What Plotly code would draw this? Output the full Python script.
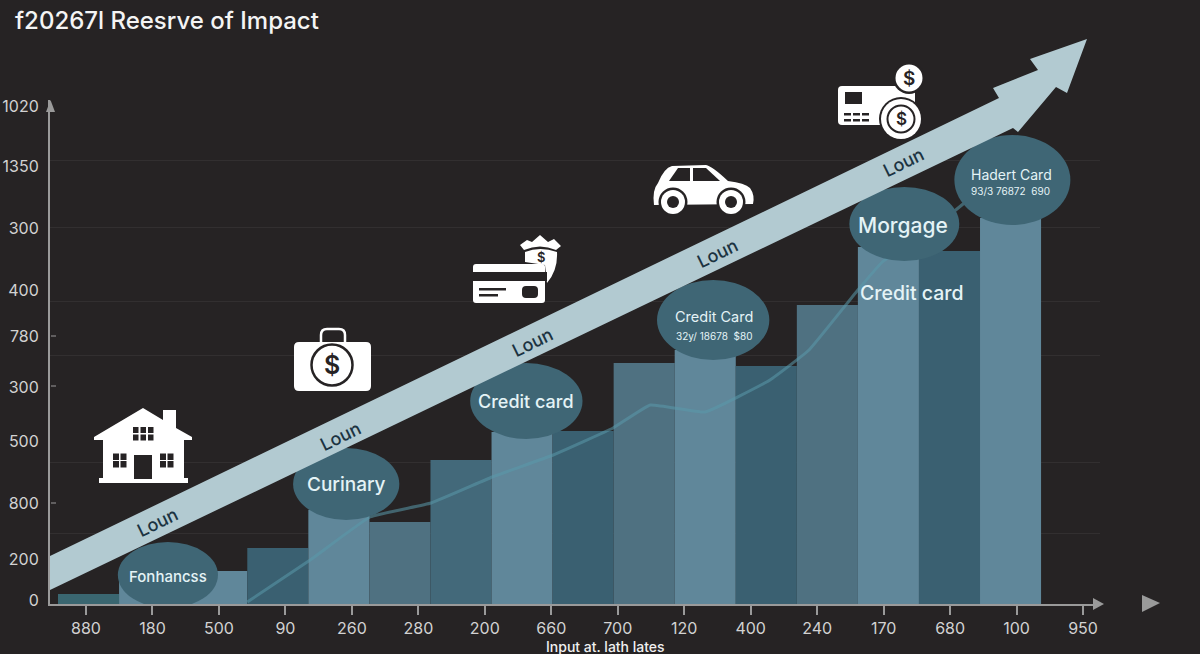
import numpy as np
import plotly.graph_objects as go

BG = "#262324"
AXIS_GREY = "#9a9a9a"
TEXT_GREY = "#d2d2d2"
ICON_WHITE = "#ffffff"
BUBBLE = "#3f6675"
DARK = "#3a6071"
MID = "#4f7181"
LIGHT = "#60879a"
BAND = "#b2cad1"
BAND_TEXT = "#1b3341"
BUBBLE_TEXT = "#e4f3f6"

# Data
bar_widths = [1, 2.1, 1, 1, 1, 1, 1, 1, 1, 1, 1, 1, 1, 1, 1]
bar_heights = [10, 33, 56, 94, 82, 144, 172, 173, 241, 254, 238, 299, 357, 353, 386]
bar_colors = ["#3a6670", LIGHT, DARK, LIGHT, MID, "#43697a", LIGHT, DARK, MID,
              LIGHT, DARK, MID, LIGHT, DARK, LIGHT]

trend_x = [3.1, 4.13, 5.11, 6.11, 7.11, 8.11, 9.09, 9.7, 10.6, 11.66, 12.3, 13.1, 13.5, 14.6, 15.2]
trend_y = [2, 44, 87, 101, 127, 149, 176, 199, 192, 224, 254, 314, 342, 389, 419]

x_tick_labels = ["880", "180", "500", "90", "260", "280", "200", "660",
                 "700", "120", "400", "240", "170", "680", "100", "950"]
y_tick_vals = [498, 438, 376, 314, 268, 217, 163, 101, 45, 4]
y_tick_labels = ["1020", "1350", "300", "400", "780", "300", "500", "800", "200", "0"]
grid_vals = [444, 377, 303, 249, 142, 71]

bubble_x = [1.8, 4.72, 7.67, 10.73, 13.86, 15.63]
bubble_y = [29, 120, 203, 284, 380, 424]
bubble_rx = [0.82, 0.87, 0.92, 0.92, 0.90, 0.95]
bubble_ry = [33, 36, 38, 40, 37, 45]

PX_PER_SLOT = 61.06
TICK_SPACING = 66.47

fig = go.Figure()

centers = np.cumsum(bar_widths) - np.array(bar_widths) / 2
fig.add_trace(go.Bar(x=centers, y=bar_heights, width=bar_widths,
                     marker=dict(color=bar_colors, line=dict(width=0)), hoverinfo="skip"))
fig.add_trace(go.Scatter(x=trend_x, y=trend_y, mode="lines", hoverinfo="skip",
                         line=dict(color="#5a9aab", width=3, shape="spline", smoothing=0.3),
                         opacity=0.55))
# needed so the tick axis and the page axis get drawn
fig.add_trace(go.Scatter(x=list(range(16)), y=[0] * 16, xaxis="x2", yaxis="y", mode="markers",
                         marker_opacity=0, hoverinfo="skip"))
fig.add_trace(go.Scatter(x=[0, 1200], y=[0, 654], xaxis="x3", yaxis="y3", mode="markers",
                         marker_opacity=0, hoverinfo="skip"))

shapes = []
annotations = []


def page_path(d, fill=ICON_WHITE):
    shapes.append(dict(type="path", path=d, xref="x3", yref="y3", fillcolor=fill, line_width=0, layer="above"))


def page_rect(x0, y0, x1, y1, fill=BG):
    shapes.append(dict(type="rect", xref="x3", yref="y3", x0=x0, y0=y0, x1=x1, y1=y1,
                       fillcolor=fill, line_width=0, layer="above"))


def page_circle(cx, cy, r, fill=ICON_WHITE, line=None, width=0):
    shapes.append(dict(type="circle", xref="x3", yref="y3", x0=cx - r, y0=cy - r, x1=cx + r, y1=cy + r,
                       fillcolor=fill, line=dict(color=line or fill, width=width), layer="above"))


def rounded(x0, y0, x1, y1, r):
    return (f"M{x0 + r},{y0} L{x1 - r},{y0} Q{x1},{y0} {x1},{y0 + r} L{x1},{y1 - r} Q{x1},{y1} {x1 - r},{y1} "
            f"L{x0 + r},{y1} Q{x0},{y1} {x0},{y1 - r} L{x0},{y0 + r} Q{x0},{y0} {x0 + r},{y0} Z")


def page_text(x, y, text, size, color=ICON_WHITE, angle=0, weight=400):
    annotations.append(dict(x=x, y=y, xref="x3", yref="y3", text=text, showarrow=False, textangle=angle,
                            xanchor="center", yanchor="middle", borderpad=0,
                            font=dict(size=size, color=color, family="Inter", weight=weight)))


# axis arrow heads and small ticks
page_path("M46,112 L50.5,100 L55,112 Z", AXIS_GREY)
page_path("M1093,598 L1104,604 L1093,610 Z", AXIS_GREY)
page_path("M1142,595 L1160,603 L1142,612 Z", AXIS_GREY)
for tick_y in [336, 386, 503]:
    page_rect(51, tick_y - 0.5, 56, tick_y + 0.5, AXIS_GREY)

# bubbles sit on the data axes so the baseline clips them
for bx, by, rx, ry in zip(bubble_x, bubble_y, bubble_rx, bubble_ry):
    shapes.append(dict(type="circle", xref="x", yref="y", x0=bx - rx, x1=bx + rx, y0=by - ry, y1=by + ry,
                       fillcolor=BUBBLE, line_width=0, layer="above"))

# big arrow
page_path("M50,556 L999,98 L993,88 L1038,70 L1030,59 L1087,39 L1067,93 L1056,87 "
          "L1018,132 L1013,128 L50,590 Z", BAND)

# house
page_path("M143,408 L163,420 L163,410 L176,410 L176,428 L192,437 L192,440 L184,440 L184,478 L188,478 "
          "L188,483 L99,483 L99,478 L103,478 L103,440 L94,440 L94,437 Z")
for wx in [133, 140.5, 148]:
    for wy in [427, 434.5]:
        page_rect(wx, wy, wx + 5.5, wy + 6)
for wx in [113, 120.5, 160, 167.5]:
    for wy in [453.5, 461]:
        page_rect(wx, wy, wx + 6, wy + 6.5)
page_rect(134, 455, 152, 479)

# bag
shapes.append(dict(type="path", xref="x3", yref="y3", layer="above", line=dict(color=ICON_WHITE, width=2.5),
                   path="M321,342 L321,335 Q321,329 327,329 L339,329 Q345,329 345,335 L345,342"))
page_path(rounded(294, 342, 371, 391, 5))
page_circle(332, 365, 20.5, ICON_WHITE, BG, 2.5)
page_text(332, 365, "$", 25, BG, weight=600)

# card with shield
page_path("M520,245 L527,240 L532,242 L540,235 L548,242 L554,239 L561,246 L556,250 Q540,243 524,250 Z")
page_path("M525,252 Q540,246 557,252 Q558,270 547,283 L545,265 L525,262 Z")
page_text(541, 257, "$", 13, BG, weight=600)
page_path(rounded(473, 264, 545, 303, 3))
page_rect(473, 272, 547, 281)
page_rect(479, 288, 506, 290.5)
page_rect(479, 294, 498, 296.5)
page_path(rounded(522, 286, 538, 298, 4), BG)

# car
page_path("M654,205 Q652,190 658,183 Q664,168 672,166 L706,165 Q712,166 728,181 Q745,183 750,188 "
          "Q755,195 753,204 L654,205 Z")
page_path("M678,168 L690,168 L690,181 L669,181 Z", BG)
page_path("M693,168 L706,168 L720,181 L693,181 Z", BG)
for wheel_x in [673, 731]:
    page_circle(wheel_x, 202, 14.5, BG)
    page_circle(wheel_x, 202, 12)
    page_circle(wheel_x, 202, 6, BG)

# card with coins
page_path(rounded(838, 86, 915, 125, 4))
page_rect(845, 92, 862, 104, BG)
for dash_y in [113, 119]:
    for dash_x in [844, 853, 862]:
        page_rect(dash_x, dash_y, dash_x + 7, dash_y + 2.5, BG)
page_circle(909, 78, 16, BG)
page_circle(909, 78, 13.5)
page_text(909, 78, "$", 19, BG, weight=600)
page_circle(901, 119, 22, BG)
page_circle(901, 119, 20)
page_circle(901, 119, 13.5, ICON_WHITE, BG, 2)
page_text(901, 119, "$", 17, BG, weight=600)

# texts
page_text(166.5, 20, "f20267l Reesrve of Impact", 24, "#f4f4f4", weight=500)
page_text(605, 646, "Input at. lath lates", 14, "#f0f0f0", weight=500)

for lx, ly in [(157, 522), (340, 436), (532, 342), (717, 253), (903, 162)]:
    page_text(lx, ly, "Loun", 18, BAND_TEXT, angle=-26, weight=500)

page_text(168, 576, "Fonhancss", 15, BUBBLE_TEXT, weight=500)
page_text(346, 484, "Curinary", 19, BUBBLE_TEXT, weight=500)
page_text(526, 401, "Credit card", 18, BUBBLE_TEXT, weight=500)
page_text(714, 316, "Credit Card", 14.5, BUBBLE_TEXT)
page_text(714, 336, "32y/ 18678&nbsp;&nbsp;$80", 10, BUBBLE_TEXT)
page_text(903, 225, "Morgage", 21, BUBBLE_TEXT, weight=500)
page_text(911, 293, "Credit card", 19.5, BUBBLE_TEXT, weight=500)
page_text(1011, 174, "Hadert Card", 14, BUBBLE_TEXT)
page_text(1010, 191, "93/3 76872&nbsp;&nbsp;690", 10, BUBBLE_TEXT)

x_left, x_right = 50, 1100
fig.update_layout(
    width=1200, height=654, margin=dict(l=0, r=0, t=0, b=0, autoexpand=False), showlegend=False,
    paper_bgcolor=BG, plot_bgcolor="rgba(0,0,0,0)", shapes=shapes, annotations=annotations,
    font=dict(family="Inter", color=TEXT_GREY, size=16),
    xaxis=dict(domain=[x_left / 1200, x_right / 1200], anchor="y", showticklabels=False, ticks="", showgrid=False,
               zeroline=False, range=[(x_left - 58) / PX_PER_SLOT, (x_right - 58) / PX_PER_SLOT],
               showline=True, linecolor=AXIS_GREY, linewidth=2),
    xaxis2=dict(domain=[x_left / 1200, x_right / 1200], anchor="y", overlaying="x", side="bottom",
                range=[(x_left - 86) / TICK_SPACING, (x_right - 86) / TICK_SPACING],
                tickmode="array", tickvals=list(range(16)), ticktext=x_tick_labels,
                ticks="outside", ticklen=10, tickcolor=AXIS_GREY, tickwidth=1.5, showgrid=False, zeroline=False,
                tickfont=dict(size=16, color=TEXT_GREY, family="Inter")),
    yaxis=dict(domain=[50 / 654, 554 / 654], range=[0, 504], anchor="x",
               tickmode="array", tickvals=y_tick_vals, ticktext=y_tick_labels, ticks="", showgrid=False,
               zeroline=False, showline=True, linecolor=AXIS_GREY, linewidth=2, ticklabelstandoff=6,
               tickfont=dict(size=16, color=TEXT_GREY, family="Inter"),
               minor=dict(tickmode="array", tickvals=grid_vals, showgrid=True, gridcolor="#322f30",
                          gridwidth=1, ticks="")),
    # free page axes in pixels, only for the icons and the big arrow
    xaxis3=dict(domain=[0, 1], range=[0, 1200], anchor="y3", visible=False),
    yaxis3=dict(domain=[0, 1], range=[654, 0], anchor="x3", visible=False),
)

# the browser's default body margin would shift the chart by 8px
fig.write_html("out.html", config=dict(displayModeBar=False),
               post_script="document.body.style.margin = '0';")
